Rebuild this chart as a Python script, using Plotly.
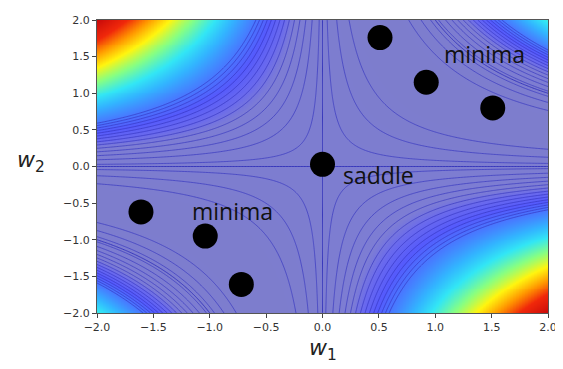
import numpy as np
import plotly.graph_objects as go

# Loss surface f(w1, w2) = (1 - w1*w2)^2 sampled on a grid
w1_grid = np.linspace(-2, 2, 300)
w2_grid = np.linspace(-2, 2, 300)
W1, W2 = np.meshgrid(w1_grid, w2_grid)
Z = (1 - W1 * W2) ** 2

# Marked points
minima_w1 = [0.51, 0.92, 1.51, -1.61, -1.04, -0.72]
minima_w2 = [1.76, 1.15, 0.80, -0.62, -0.95, -1.61]
saddle_w1 = [0.0]
saddle_w2 = [0.03]

labels = ["minima", "minima", "saddle"]
label_w1 = [1.44, -0.80, 0.50]
label_w2 = [1.54, -0.61, -0.12]

x_ticks = [-2.0, -1.5, -1.0, -0.5, 0.0, 0.5, 1.0, 1.5, 2.0]
y_ticks = [-2.0, -1.5, -1.0, -0.5, 0.0, 0.5, 1.0, 1.5, 2.0]

colorscale = [
    [0.000, "rgb(125,125,205)"],
    [0.090, "rgb(125,125,212)"],
    [0.115, "rgb(105,105,238)"],
    [0.150, "rgb(85,90,252)"],
    [0.200, "rgb(70,125,255)"],
    [0.270, "rgb(50,180,255)"],
    [0.340, "rgb(50,230,245)"],
    [0.440, "rgb(135,255,130)"],
    [0.550, "rgb(255,245,15)"],
    [0.670, "rgb(255,150,0)"],
    [0.800, "rgb(240,40,10)"],
    [1.000, "rgb(200,10,10)"],
]

fig = go.Figure()
fig.add_trace(go.Heatmap(
    x=w1_grid, y=w2_grid, z=Z,
    zmin=0, zmax=25, colorscale=colorscale, showscale=False,
    zsmooth="best", hoverinfo="skip",
))
fig.add_trace(go.Contour(
    x=w1_grid, y=w2_grid, z=Z,
    showscale=False,
    contours=dict(start=0.28, end=5.0, size=0.28, coloring="none"),
    line=dict(width=1, color="rgba(50,50,190,0.65)"), hoverinfo="skip",
))
fig.add_trace(go.Contour(
    x=w1_grid, y=w2_grid, z=Z,
    showscale=False,
    contours=dict(start=1, end=1, size=1, coloring="none"),
    line=dict(width=1, color="rgba(45,45,185,0.85)"), hoverinfo="skip",
))
fig.add_trace(go.Scatter(
    x=minima_w1 + saddle_w1, y=minima_w2 + saddle_w2, mode="markers",
    marker=dict(size=25, color="black"), hoverinfo="skip",
))
for t, x, y in zip(labels, label_w1, label_w2):
    fig.add_annotation(x=x, y=y, text=t, showarrow=False,
                       font=dict(family="Open Sans", size=23, color="#111"))

fig.add_annotation(xref="paper", yref="paper", x=0.5, y=-0.124, yanchor="middle",
                   text="<i>w</i><sub>1</sub>", showarrow=False,
                   font=dict(family="DejaVu Sans", size=22, color="#222"))
fig.add_annotation(xref="paper", yref="paper", x=-0.147, y=0.518, xanchor="center",
                   yanchor="middle",
                   text="<i>w</i><sub>2</sub>", showarrow=False,
                   font=dict(family="DejaVu Sans", size=22, color="#222"))

axis_common = dict(
    showgrid=False, zeroline=False, ticks="outside", ticklen=4,
    tickcolor="#444", showline=True, linecolor="#555", linewidth=1, mirror=True,
    tickfont=dict(family="DejaVu Sans", size=11, color="#333"),
    tickformat=".1f",
)
fig.update_xaxes(range=[-2, 2], tickvals=x_ticks, **axis_common)
fig.update_yaxes(range=[-2, 2], tickvals=y_ticks, **axis_common)
fig.update_layout(
    width=555, height=361, showlegend=False,
    margin=dict(l=89, r=10, t=6, b=56),
    paper_bgcolor="white", plot_bgcolor="white",
)
fig.write_html("out.html")
